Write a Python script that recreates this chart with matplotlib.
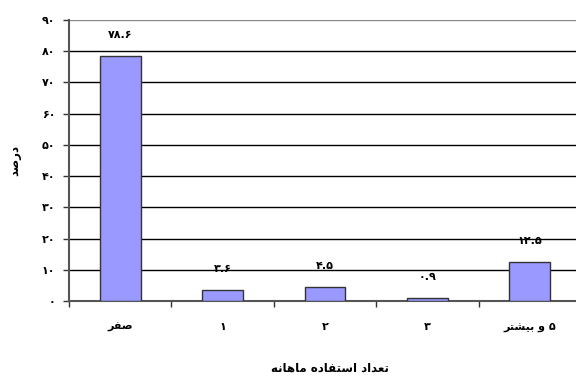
import matplotlib
matplotlib.use("Agg")
import matplotlib.pyplot as plt
from matplotlib.ticker import FixedLocator

# data
categories = ["صفر", "۱", "۲", "۳", "۵ و بیشتر"]
percent = [78.6, 3.6, 4.5, 0.9, 12.5]
y_ticks = [0, 10, 20, 30, 40, 50, 60, 70, 80, 90]
x_title = "تعداد استفاده ماهانه"
y_title = "درصد"

# Arabic presentation forms: isolated, final, initial, medial
FORMS = {
    "ا": ("\uFE8D", "\uFE8E", None, None),
    "ب": ("\uFE8F", "\uFE90", "\uFE91", "\uFE92"),
    "ت": ("\uFE95", "\uFE96", "\uFE97", "\uFE98"),
    "د": ("\uFEA9", "\uFEAA", None, None),
    "ر": ("\uFEAD", "\uFEAE", None, None),
    "س": ("\uFEB1", "\uFEB2", "\uFEB3", "\uFEB4"),
    "ش": ("\uFEB5", "\uFEB6", "\uFEB7", "\uFEB8"),
    "ص": ("\uFEB9", "\uFEBA", "\uFEBB", "\uFEBC"),
    "ع": ("\uFEC9", "\uFECA", "\uFECB", "\uFECC"),
    "ف": ("\uFED1", "\uFED2", "\uFED3", "\uFED4"),
    "م": ("\uFEE1", "\uFEE2", "\uFEE3", "\uFEE4"),
    "ن": ("\uFEE5", "\uFEE6", "\uFEE7", "\uFEE8"),
    "ه": ("\uFEE9", "\uFEEA", "\uFEEB", "\uFEEC"),
    "و": ("\uFEED", "\uFEEE", None, None),
    "ی": ("\uFBFC", "\uFBFD", "\uFBFE", "\uFBFF"),
}


def dual(c):
    return c in FORMS and FORMS[c][2] is not None


def fa(text):
    # matplotlib has no shaping / bidi, so join letters and reverse by hand
    out = []
    for i, c in enumerate(text):
        if c not in FORMS:
            out.append(c)
            continue
        prev = i > 0 and dual(text[i - 1])
        nxt = dual(c) and i + 1 < len(text) and text[i + 1] in FORMS
        iso, fin, ini, med = FORMS[c]
        if prev and nxt:
            out.append(med)
        elif prev:
            out.append(fin)
        elif nxt:
            out.append(ini)
        else:
            out.append(iso)
    return "".join(out[::-1])


DIGITS = str.maketrans("0123456789", "۰۱۲۳۴۵۶۷۸۹")


def fa_num(v):
    return str(v).translate(DIGITS)


plt.rcParams["font.family"] = ["DejaVu Sans"]

fig = plt.figure(figsize=(5.76, 3.80), dpi=100)
ax = fig.add_axes([69 / 576, 79 / 380, 512 / 576, 281 / 380])

x = list(range(len(categories)))
ax.bar(x, percent, width=0.4, color="#9999FF", edgecolor="#333333", linewidth=1, zorder=3)

for xi, v in zip(x, percent):
    ax.annotate(fa_num(v), (xi, v), xytext=(0, 15), textcoords="offset points",
                ha="center", va="center", fontsize=8, fontweight="bold")

ax.set_xlim(-0.5, len(categories) - 0.5)
ax.set_ylim(0, 90)
ax.set_yticks(y_ticks)
ax.set_yticklabels([fa_num(t) for t in y_ticks], fontsize=8, fontweight="bold")
ax.set_xticks(x)
ax.set_xticklabels([fa(c) for c in categories], fontsize=8, fontweight="bold")
ax.tick_params(axis="x", which="major", length=0, pad=15)
ax.xaxis.set_minor_locator(FixedLocator([i - 0.5 for i in range(len(categories) + 1)]))
ax.tick_params(axis="x", which="minor", length=4, width=1, color="#333333")
ax.tick_params(axis="y", length=4, width=1, color="#333333", pad=6)

for t in y_ticks[1:]:
    ax.axhline(t, color="#888888" if t == 90 else "black", linewidth=1, zorder=1)

for side in ["top", "right"]:
    ax.spines[side].set_visible(False)
for side in ["left", "bottom"]:
    ax.spines[side].set_color("#555555")
    ax.spines[side].set_linewidth(1.5)

fig.text(330 / 576, 1 - 372 / 380, fa(x_title), ha="center", va="baseline",
         fontsize=8.5, fontweight="bold")
fig.text(15 / 576, 1 - 160 / 380, fa(y_title), ha="center", va="center",
         rotation=90, fontsize=8.5, fontweight="bold")

fig.savefig("out.png", dpi=100)
